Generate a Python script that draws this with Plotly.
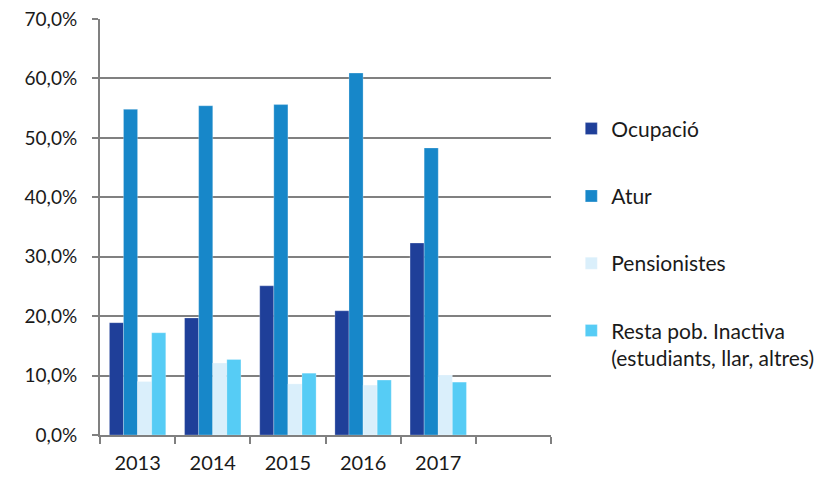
import plotly.graph_objects as go

years = ["2013", "2014", "2015", "2016", "2017"]
categories = years + [" "]
ocupacio = [18.9, 19.7, 25.1, 20.9, 32.3]
atur = [54.8, 55.4, 55.6, 60.9, 48.3]
pensionistes = [9.0, 12.1, 8.6, 8.4, 10.1]
resta = [17.2, 12.7, 10.4, 9.25, 8.9]

series = [
    ("Ocupació", ocupacio, "#1F3F99"),
    ("Atur", atur, "#1787C9"),
    ("Pensionistes", pensionistes, "#DAEFFB"),
    ("Resta pob. Inactiva<br>(estudiants, llar, altres)", resta, "#56CCF5"),
]

fig = go.Figure()
for i, (name, vals, col) in enumerate(series):
    fig.add_trace(go.Bar(
        x=years, y=vals, name=name, legendgroup=str(i),
        marker=dict(color=col, line=dict(color="rgba(255,255,255,0.5)", width=0.5)),
    ))

font = "Lato, 'Open Sans', sans-serif"
fig.update_layout(
    width=823, height=477,
    margin=dict(l=100, r=272, t=19, b=42, autoexpand=False),
    paper_bgcolor="white", plot_bgcolor="white",
    barmode="group", bargap=0.25, bargroupgap=0,
    separators=",.",
    font=dict(family=font, size=19, color="#1a1a1a"),
    showlegend=True,
    legend=dict(x=1.045, xanchor="left", y=0.785, yanchor="top",
                tracegroupgap=37, valign="top", itemwidth=30,
                font=dict(size=21, family=font)),
    xaxis=dict(type="category", categoryorder="array", categoryarray=categories,
               range=[-0.5, 5.5], showline=True, linecolor="#808080", linewidth=2,
               ticks="outside", tickson="boundaries", ticklen=7, tickcolor="#808080",
               tickwidth=2, showgrid=False, ticklabelstandoff=9, automargin=False,
               tickfont=dict(size=20)),
    yaxis=dict(range=[0, 70], dtick=10, tickformat=".1f", ticksuffix="%",
               showline=True, linecolor="#808080", linewidth=2,
               ticks="outside", ticklen=6, tickcolor="#808080", tickwidth=2,
               showgrid=True, gridcolor="#808080", gridwidth=2, zeroline=False,
               ticklabelstandoff=11, automargin=False, tickfont=dict(size=19)),
)

fig.write_html("out.html", config={"displayModeBar": False},
               post_script="document.body.style.margin='0';document.body.style.overflow='hidden';")
